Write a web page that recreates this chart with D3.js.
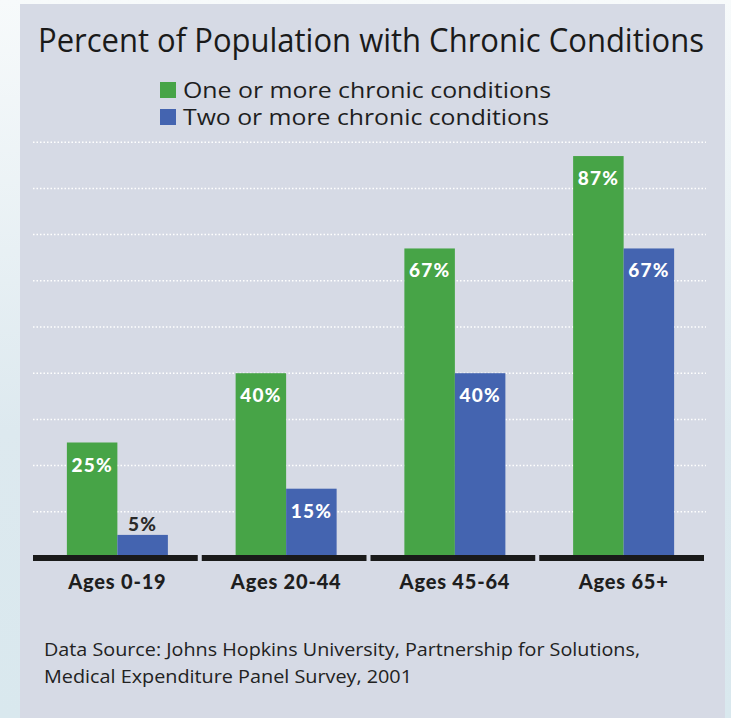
<!DOCTYPE html>
<html>
<style>
  body { margin: 0; background: #ffffff; }
  svg { display: block; }
</style>
<script src="https://d3js.org/d3.v7.min.js"></script>
<body>
<svg id="chart" width="731" height="718"></svg>
</body>
<script>
  // chart data
  const ageGroups = ["Ages 0-19", "Ages 20-44", "Ages 45-64", "Ages 65+"];
  const seriesNames = ["One or more chronic conditions", "Two or more chronic conditions"];
  const oneOrMore = [25, 40, 67, 87];
  const twoOrMore = [5, 15, 40, 67];
  const gridValues = [10, 20, 30, 40, 50, 60, 70, 80, 90];
  const colors = ["#47a447", "#4464b0"];

  const svg = d3.select("#chart");
  const W = 731, H = 718;
  const textFont = "'Open Sans', sans-serif";

  // backdrop: light strips left/right, grey panel
  const defs = svg.append("defs");
  const grad = defs.append("linearGradient").attr("id", "side").attr("x1", 0).attr("y1", 0).attr("x2", 0).attr("y2", 1);
  grad.append("stop").attr("offset", "0%").attr("stop-color", "#f7fafb");
  grad.append("stop").attr("offset", "60%").attr("stop-color", "#dde9ef");
  grad.append("stop").attr("offset", "100%").attr("stop-color", "#d9e8ee");
  svg.append("rect").attr("width", W).attr("height", H).attr("fill", "url(#side)");
  svg.append("rect").attr("x", 20).attr("y", 4).attr("width", 705).attr("height", H - 4).attr("fill", "#d6dae5");

  // title
  svg.append("text")
      .attr("x", 38).attr("y", 52)
      .attr("textLength", 666).attr("lengthAdjust", "spacingAndGlyphs")
      .style("font-family", textFont).style("font-size", "32px").style("font-weight", "500")
      .attr("fill", "#1a1a1a")
      .text("Percent of Population with Chronic Conditions");

  // legend
  const legendLen = [368, 366];
  const legend = svg.append("g").attr("transform", "translate(160,82)");
  seriesNames.forEach((name, i) => {
    legend.append("rect").attr("x", 0).attr("y", i * 27).attr("width", 16).attr("height", 16).attr("fill", colors[i]);
    legend.append("text")
        .attr("x", 23).attr("y", i * 27 + 16)
        .attr("textLength", legendLen[i]).attr("lengthAdjust", "spacingAndGlyphs")
        .style("font-family", textFont).style("font-size", "22px")
        .attr("fill", "#1e1e1e")
        .text(name);
  });

  // scales
  const x0 = d3.scaleBand().domain(ageGroups).range([33, 708]).paddingInner(0).paddingOuter(0);
  const y = d3.scaleLinear().domain([0, 100]).range([558, 96]);
  const barW = 50.5;

  // dotted gridlines
  svg.append("g").selectAll("line").data(gridValues).enter().append("line")
      .attr("x1", 33).attr("x2", 706)
      .attr("y1", d => y(d)).attr("y2", d => y(d))
      .attr("stroke", "#ffffff").attr("stroke-width", 1.5)
      .attr("stroke-dasharray", "1.5,2");

  const rows = ageGroups.map((g, i) => ({ group: g, values: [oneOrMore[i], twoOrMore[i]] }));

  const groups = svg.append("g").selectAll("g").data(rows).enter().append("g")
      .attr("transform", d => `translate(${x0(d.group) + x0.bandwidth() / 2},0)`);

  groups.selectAll("rect").data(d => d.values).enter().append("rect")
      .attr("x", (d, i) => i === 0 ? -barW : 0)
      .attr("y", d => y(d))
      .attr("width", barW)
      .attr("height", d => y(0) - y(d))
      .attr("fill", (d, i) => colors[i]);

  // value labels
  groups.selectAll("text.val").data(d => d.values).enter().append("text")
      .attr("class", "val")
      .attr("x", (d, i) => (i === 0 ? -barW / 2 : barW / 2))
      .attr("y", d => d < 10 ? y(d) - 4 : y(d) + 29)
      .attr("text-anchor", "middle")
      .style("font-family", "Lato, sans-serif").style("font-size", "19px").style("font-weight", "900")
      .style("letter-spacing", "1.2px")
      .attr("fill", d => d < 10 ? "#2a2a2a" : "#ffffff")
      .text(d => d + "%");

  // baseline segments
  groups.append("rect")
      .attr("x", -x0.bandwidth() / 2).attr("y", 555)
      .attr("width", x0.bandwidth() - 4).attr("height", 6)
      .attr("fill", "#1a1a1a");

  // category labels
  groups.append("text")
      .attr("x", 0).attr("y", 589)
      .attr("text-anchor", "middle")
      .style("font-family", "Lato, sans-serif").style("font-size", "20px").style("font-weight", "900")
      .style("letter-spacing", "0.8px")
      .attr("fill", "#1e1e1e")
      .text(d => d.group);

  // footer
  const foot = ["Data Source: Johns Hopkins University, Partnership for Solutions,",
                "Medical Expenditure Panel Survey, 2001"];
  const footLen = [596, 368];
  svg.append("g").selectAll("text").data(foot).enter().append("text")
      .attr("x", 44).attr("y", (d, i) => 656 + i * 27)
      .attr("textLength", (d, i) => footLen[i]).attr("lengthAdjust", "spacingAndGlyphs")
      .style("font-family", textFont).style("font-size", "17.5px")
      .attr("fill", "#222222")
      .text(d => d);
</script>
</html>
